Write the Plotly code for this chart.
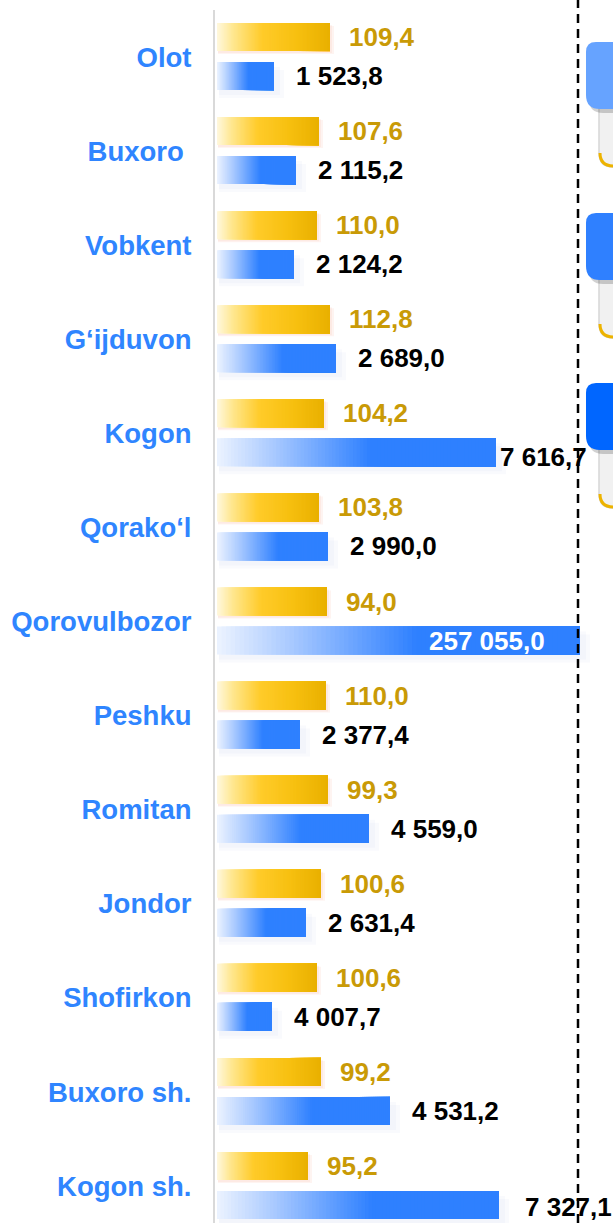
import plotly.graph_objects as go

# ─── Data ─────────────────────────────────────────────────────────────────────
categories = ["Olot", "Buxoro\u00a0", "Vobkent", "G‘ijduvon", "Kogon", "Qorako‘l",
              "Qorovulbozor", "Peshku", "Romitan", "Jondor", "Shofirkon",
              "Buxoro sh.", "Kogon sh."]
growth = [109.4, 107.6, 110.0, 112.8, 104.2, 103.8, 94.0, 110.0, 99.3, 100.6, 100.6, 99.2, 95.2]
volume = [1523.8, 2115.2, 2124.2, 2689.0, 7616.7, 2990.0, 257055.0, 2377.4,
          4559.0, 2631.4, 4007.7, 4531.2, 7327.1]
# bar lengths as drawn in the source slide (not to scale with the labels)
growth_bar = [113, 102, 100, 113, 107, 102, 110, 109, 111, 104, 100, 104, 91]
volume_bar = [57, 79, 77, 119, 279, 111, 363, 83, 152, 89, 55, 173, 282]

# ─── Theme ────────────────────────────────────────────────────────────────────
FONT = "Liberation Sans, Arial, sans-serif"
CAT_BLUE = "#2F85FF"
GOLD_TEXT = "#C99A06"
GOLD_STOPS = [(0, (255, 248, 222)), (0.15, (255, 230, 140)), (0.4, (255, 203, 42)),
              (0.7, (247, 192, 16)), (1, (233, 176, 0))]
BLUE_STOPS = [(0, (236, 243, 255)), (0.2, (170, 202, 255)), (0.55, (46, 128, 255)),
              (1, (46, 128, 255))]
N_SEG = 80
W, H = 613, 1223
ML, MT = 215, 10
SLOT = 94.08  # px per category


def interp(stops, t):
    for (t0, c0), (t1, c1) in zip(stops, stops[1:]):
        if t <= t1:
            f = (t - t0) / (t1 - t0)
            return "rgb(%d,%d,%d)" % tuple(round(a + (b - a) * f) for a, b in zip(c0, c1))
    return "rgb(%d,%d,%d)" % stops[-1][1]


def fmt(v):
    return f"{v:,.1f}".replace(",", " ").replace(".", ",")


def px(x):
    return (x - ML) / (W - ML)


def py(y):
    return (H - y) / (H - MT)


n = len(categories)
idx = list(range(n))
gold_y = [i - 20 / SLOT for i in idx]
blue_y = [i + 19 / SLOT for i in idx]
BW = 28 / SLOT

fig = go.Figure()

# soft shadows (two faint layers each)
for dy, grow, alpha in [(3, 3, 0.10), (2, 1, 0.10)]:
    fig.add_trace(go.Bar(orientation="h", y=[v + dy / SLOT for v in gold_y], x=[L + grow for L in growth_bar],
                         base=1, width=BW, marker=dict(color=f"rgba(245,150,120,{alpha})", line_width=0),
                         hoverinfo="skip"))
for dy, grow, alpha in [(8, 8, 0.07), (5, 4, 0.07)]:
    fig.add_trace(go.Bar(orientation="h", y=[v + dy / SLOT for v in blue_y], x=[L + grow for L in volume_bar],
                         base=2, width=BW, marker=dict(color=f"rgba(170,188,225,{alpha})", line_width=0),
                         hoverinfo="skip"))

# gradient bars built from overlapping segments
for lens, ys, stops in [(growth_bar, gold_y, GOLD_STOPS), (volume_bar, blue_y, BLUE_STOPS)]:
    for k in range(N_SEG):
        t = (k + 0.5) / N_SEG
        fig.add_trace(go.Bar(
            orientation="h", y=ys,
            base=[L * k / N_SEG for L in lens],
            x=[L * (N_SEG - k) / N_SEG for L in lens],
            width=BW,
            marker=dict(color=interp(stops, t), line_width=0),
            hoverinfo="skip",
        ))

annotations = []
for i in idx:
    annotations.append(dict(
        x=growth_bar[i], y=gold_y[i], xref="x", yref="y", text=fmt(growth[i]),
        showarrow=False, xanchor="left", yanchor="middle", xshift=17,
        font=dict(family=FONT, size=26, color=GOLD_TEXT, weight="bold"),
    ))

# label placement quirks of the source slide
special = {4: dict(xshift=2, yshift=-5), 12: dict(xshift=24, yshift=-2)}
for i in idx:
    a = dict(x=volume_bar[i], y=blue_y[i], xref="x", yref="y", text=fmt(volume[i]),
             showarrow=False, xanchor="left", yanchor="middle", xshift=20, yshift=0,
             font=dict(family=FONT, size=26, color="#000000", weight="bold"))
    if volume[i] == max(volume):
        a.update(xanchor="right", xshift=-33, font=dict(family=FONT, size=26, color="#FFFFFF", weight="bold"))
    a.update(special.get(i, {}))
    annotations.append(a)


def rrect(x0, y0, x1, y1, r_tl, r_bl):
    pts = [("M", x0, y0 + r_tl), ("Q", x0, y0, x0 + r_tl, y0), ("L", x1, y0), ("L", x1, y1),
           ("L", x0 + r_bl, y1), ("Q", x0, y1, x0, y1 - r_bl)]
    out = []
    for p in pts:
        cmd, coords = p[0], p[1:]
        xy = []
        for j in range(0, len(coords), 2):
            xy.append(f"{px(coords[j]):.5f},{py(coords[j + 1]):.5f}")
        out.append(cmd + " ".join(xy))
    return " ".join(out) + " Z"


shapes = [dict(type="line", xref="x", yref="paper", x0=361, x1=361, y0=0, y1=py(0),
               line=dict(color="#000000", width=2.5, dash="9px,6px"), layer="above")]

# cut-off legend tiles at the right edge
for top, col in [(42, "#66A3FF"), (213, "#2F80FF"), (383, "#0066FF")]:
    bot = top + 67
    shapes.append(dict(type="path", xref="paper", yref="paper", path=rrect(599, bot - 4, 630, bot + 58, 0, 14),
                       fillcolor="#F1F1F1", line=dict(color="#D6D6D6", width=1.5)))
    shapes.append(dict(type="path", xref="paper", yref="paper",
                       path=f"M{px(600):.5f},{py(bot + 44):.5f} Q{px(600):.5f},{py(bot + 57):.5f} {px(614):.5f},{py(bot + 57):.5f}",
                       line=dict(color="#EDB300", width=3)))
    shapes.append(dict(type="path", xref="paper", yref="paper", path=rrect(589, top + 4, 630, bot + 4, 10, 14),
                       fillcolor="rgba(0,0,0,0.18)", line_width=0))
    shapes.append(dict(type="path", xref="paper", yref="paper", path=rrect(586, top, 630, bot, 10, 14),
                       fillcolor=col, line_width=0))

fig.update_layout(
    width=W, height=H,
    barmode="overlay",
    showlegend=False,
    paper_bgcolor="#FFFFFF",
    plot_bgcolor="#FFFFFF",
    margin=dict(l=ML, r=0, t=MT, b=0),
    xaxis=dict(range=[-2, W - ML - 2], visible=False, fixedrange=True),
    yaxis=dict(range=[n - 0.5 + (H - MT - n * SLOT) / SLOT, -0.5],
               tickvals=idx, ticktext=categories, ticks="", ticklabelstandoff=16,
               tickfont=dict(family=FONT, size=27.5, color=CAT_BLUE, weight="bold"),
               showline=True, linecolor="#D9D9D9", linewidth=2,
               showgrid=False, zeroline=False, fixedrange=True),
    annotations=annotations,
    shapes=shapes,
)

fig.write_html("out.html", config={"displayModeBar": False},
               post_script="document.body.style.margin='0';")
